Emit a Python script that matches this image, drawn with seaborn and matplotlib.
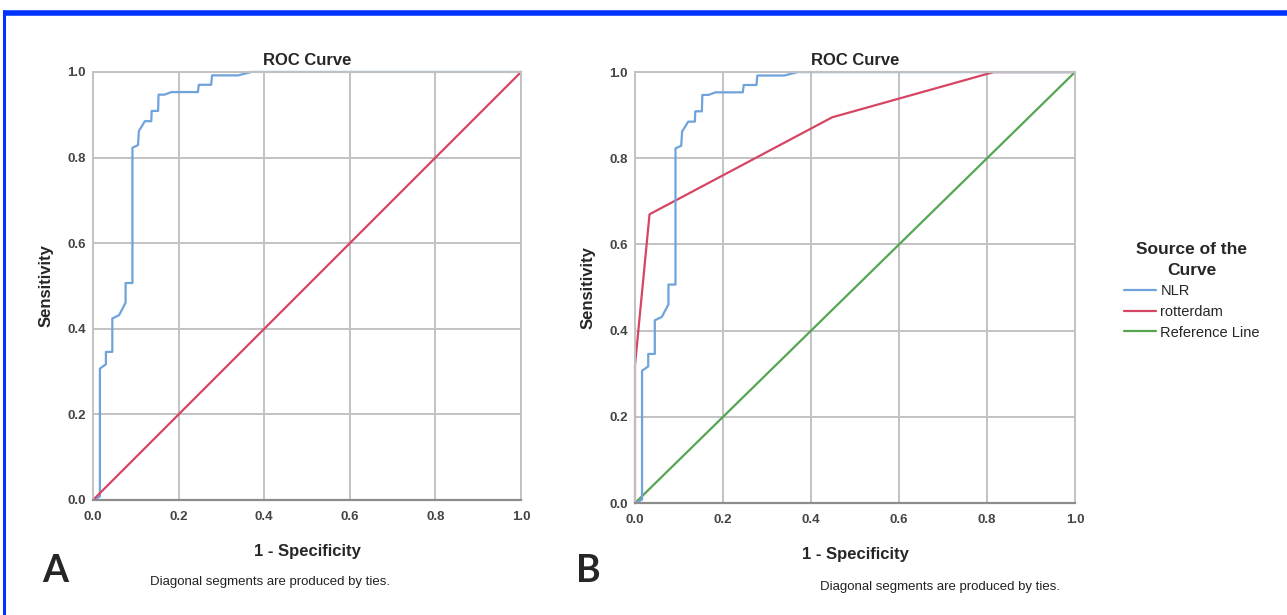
import numpy as np
import pandas as pd
import matplotlib
matplotlib.use('Agg')
import matplotlib.pyplot as plt
from matplotlib.lines import Line2D
import seaborn as sns

sns.set_theme(style='white')
plt.rcParams['font.family'] = ['Liberation Sans', 'DejaVu Sans']

# NLR ROC curve
nlr_fpr = [0, 0.016, 0.016, 0.030, 0.030, 0.045, 0.045, 0.061, 0.076, 0.076, 0.092,
           0.092, 0.105, 0.107, 0.121, 0.136, 0.137, 0.152, 0.153, 0.167, 0.183,
           0.245, 0.247, 0.276, 0.278, 0.339, 0.370, 1.0]
nlr_tpr = [0, 0.008, 0.307, 0.317, 0.346, 0.346, 0.424, 0.432, 0.461, 0.507, 0.507,
           0.823, 0.829, 0.862, 0.885, 0.885, 0.909, 0.909, 0.947, 0.947, 0.953,
           0.953, 0.970, 0.970, 0.992, 0.992, 1.0, 1.0]

# rotterdam ROC curve
rot_fpr = [0, 0, 0.033, 0.448, 0.815, 1.0]
rot_tpr = [0, 0.32, 0.67, 0.895, 1.0, 1.0]

# reference line
ref_x = [0, 1]
ref_y = [0, 1]

ticks = [0.0, 0.2, 0.4, 0.6, 0.8, 1.0]
tick_labels = ['0.0', '0.2', '0.4', '0.6', '0.8', '1.0']

c_blue = '#6fa3dc'
c_red = '#d64563'
c_green = '#55a553'
grid_c = '#c2c2c2'

nlr_df = pd.DataFrame({'x': nlr_fpr, 'y': nlr_tpr, 'src': 'NLR'})
rot_df = pd.DataFrame({'x': rot_fpr, 'y': rot_tpr, 'src': 'rotterdam'})
ref_df = pd.DataFrame({'x': ref_x, 'y': ref_y, 'src': 'Reference Line'})

fig = plt.figure(figsize=(12.87, 6.15), dpi=100)
ax1 = fig.add_axes([0.0723, 0.187, 0.3326, 0.696])
ax2 = fig.add_axes([0.4934, 0.182, 0.3419, 0.7008])


def style_ax(ax):
    ax.set_xlim(0, 1)
    ax.set_ylim(0, 1)
    ax.set_xticks(ticks)
    ax.set_yticks(ticks)
    ax.set_xticklabels(tick_labels, fontweight='semibold')
    ax.set_yticklabels(tick_labels, fontweight='semibold')
    ax.grid(True, color=grid_c, linewidth=1.4)
    ax.set_axisbelow(True)
    for s in ['top', 'right', 'left']:
        ax.spines[s].set_color(grid_c)
        ax.spines[s].set_linewidth(1.4)
    ax.spines['bottom'].set_color('#8c8c8c')
    ax.spines['bottom'].set_linewidth(1.6)
    ax.tick_params(axis='x', length=0, labelsize=9.5, colors='#444444', pad=8)
    ax.tick_params(axis='y', length=0, labelsize=9.5, colors='#444444', pad=5)
    ax.set_title('ROC Curve', fontsize=12, fontweight='bold', pad=5)
    ax.set_xlabel('1 - Specificity', fontsize=12, fontweight='bold', labelpad=15)
    ax.set_ylabel('Sensitivity', fontsize=12, fontweight='bold', labelpad=10)


def draw(df, ax, color):
    sns.lineplot(data=df, x='x', y='y', sort=False, estimator=None, color=color,
                 linewidth=1.6, ax=ax, legend=False)
    ax.lines[-1].set_clip_on(False)


# panel A
draw(nlr_df, ax1, c_blue)
draw(ref_df, ax1, c_red)
style_ax(ax1)

# panel B
draw(ref_df, ax2, c_green)
draw(rot_df, ax2, c_red)
draw(nlr_df, ax2, c_blue)
style_ax(ax2)

# footnotes and panel letters
fig.text(270 / 1287, 1 - 582 / 615, 'Diagonal segments are produced by ties.',
         ha='center', va='center', fontsize=9.5, color='#222222')
fig.text(940 / 1287, 1 - 587 / 615, 'Diagonal segments are produced by ties.',
         ha='center', va='center', fontsize=9.5, color='#222222')
fig.text(55 / 1287, 1 - 571 / 615, 'A', ha='center', va='center', fontsize=27,
         fontweight='bold', family=['Lato', 'DejaVu Sans'])
fig.text(588 / 1287, 1 - 571 / 615, 'B', ha='center', va='center', fontsize=27,
         fontweight='bold', family=['Lato', 'DejaVu Sans'])

# legend
handles = [Line2D([], [], color=c_blue, lw=1.6),
           Line2D([], [], color=c_red, lw=1.6),
           Line2D([], [], color=c_green, lw=1.6)]
leg = fig.legend(handles, ['NLR', 'rotterdam', 'Reference Line'],
                 title='Source of the\nCurve', loc='upper left',
                 bbox_to_anchor=(1118 / 1287, 1 - 236 / 615), frameon=False,
                 fontsize=10.5, handlelength=2.2, handletextpad=0.3,
                 labelspacing=0.45, borderaxespad=0)
leg.get_title().set_fontweight('bold')
leg.get_title().set_fontsize(12.5)
leg.get_title().set_multialignment('center')
leg.get_title().set_linespacing(1.5)

# blue frame (top and left edges)
fig.add_artist(Line2D([3 / 1287, 1], [1 - 12.5 / 615, 1 - 12.5 / 615],
                      color='#0033ff', lw=4, transform=fig.transFigure,
                      solid_capstyle='butt'))
fig.add_artist(Line2D([4 / 1287, 4 / 1287], [0, 1 - 10 / 615],
                      color='#0033ff', lw=2.2, transform=fig.transFigure,
                      solid_capstyle='butt'))

fig.savefig('out.png', dpi=100)
